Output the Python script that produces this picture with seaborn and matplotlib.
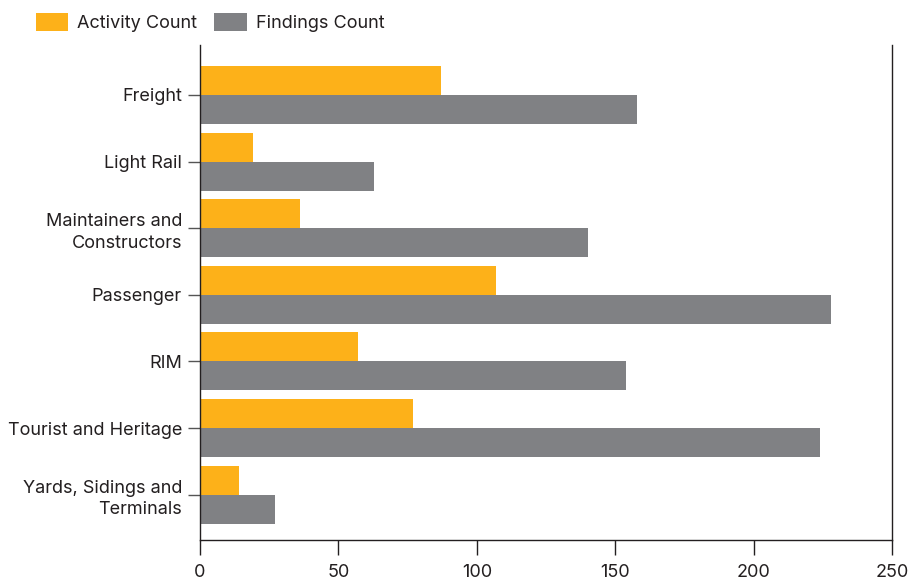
import matplotlib
matplotlib.use("Agg")
import matplotlib.pyplot as plt
import seaborn as sns
import pandas as pd

categories = ["Freight", "Light Rail", "Maintainers and\nConstructors", "Passenger", "RIM",
              "Tourist and Heritage", "Yards, Sidings and\nTerminals"]
activity_count = [87, 19, 36, 107, 57, 77, 14]
findings_count = [158, 63, 140, 228, 154, 224, 27]
series_names = ["Activity Count", "Findings Count"]
x_ticks = [0, 50, 100, 150, 200, 250]

df = pd.DataFrame({
    "category": categories * 2,
    "value": activity_count + findings_count,
    "series": [series_names[0]] * len(categories) + [series_names[1]] * len(categories),
})

sns.set_theme(style="white")
dark = "#231F20"
plt.rcParams.update({
    "font.family": ["Inter", "DejaVu Sans"],
    "font.weight": "normal",
    "xtick.bottom": True,
    "ytick.left": True,
    "xtick.major.size": 11,
    "ytick.major.size": 9,
    "xtick.major.width": 1,
    "ytick.major.width": 1,
    "xtick.major.pad": 6,
    "ytick.major.pad": 4,
    "xtick.color": dark,
    "ytick.color": "#555555",
})

fig = plt.figure(figsize=(9.18, 5.83), dpi=100)
ax = fig.add_axes([200/918, 1-540/583, 692/918, 495/583])

palette = {series_names[0]: "#FDB119", series_names[1]: "#808184"}
sns.barplot(data=df, y="category", x="value", hue="series", order=categories,
            hue_order=series_names, palette=palette, orient="h", width=0.87,
            saturation=1, ax=ax, legend=True, linewidth=0)

ax.set_xlim(0, 250)
ax.set_ylim(6.68, -0.75)
ax.set_xticks(x_ticks)
ax.set_xticklabels([str(t) for t in x_ticks])
ax.set_xlabel("")
ax.set_ylabel("")

for s in ["left", "bottom", "right"]:
    ax.spines[s].set_visible(True)
    ax.spines[s].set_color(dark)
    ax.spines[s].set_linewidth(1.0)
ax.spines["top"].set_visible(False)

ax.tick_params(axis="x", which="major", direction="out", length=11, width=1, color=dark, pad=6,
               labelsize=13, labelcolor=dark, bottom=True)
ax.tick_params(axis="y", which="major", direction="out", length=9, width=1, color="#555555", pad=4,
               labelsize=13, labelcolor=dark, left=True)
for lab in ax.get_yticklabels():
    lab.set_horizontalalignment("right")
    lab.set_multialignment("right")
    lab.set_linespacing(1.35)

ax.get_legend().remove()
handles, labels = ax.get_legend_handles_labels()
fig.legend(handles[:2], labels[:2], loc="upper left", bbox_to_anchor=(23/918, 1.0),
           ncol=2, frameon=False, fontsize=13, handlelength=1.8, handleheight=1.2,
           handletextpad=0.5, columnspacing=0.95, borderaxespad=0.3, labelcolor=dark)

fig.savefig("out.png", dpi=100)
